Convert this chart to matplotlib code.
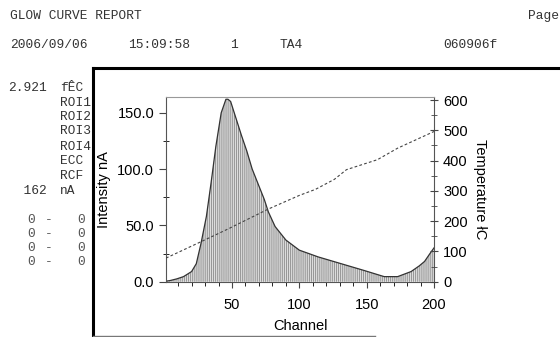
import matplotlib
matplotlib.use('Agg')
import matplotlib.pyplot as plt
from matplotlib.ticker import MultipleLocator

# glow curve (channel, intensity nA)
channel = [1, 4, 9, 14, 20, 23.5, 27, 31, 34.5, 38, 42, 45.5, 47, 49, 53, 57,
           61, 65, 70, 74, 77, 82, 90, 100, 114, 131, 148, 163, 173, 183,
           189, 193, 197, 200]
intensity = [0.5, 1, 2.5, 4.5, 9, 16, 34, 58, 88, 120, 150, 162, 162, 160,
             145, 130, 116, 100, 85, 73, 62, 49, 37, 28, 22, 16, 10, 4.5,
             4.5, 9, 14, 18, 25, 30]

# temperature ramp (right axis)
temp_channel = [1, 26, 47, 77, 100, 112, 126, 135, 158, 173, 200]
temperature = [78, 130, 174, 240, 285, 305, 338, 370, 403, 441, 496]

x_ticks = [50, 100, 150, 200]
y_ticks = [0, 50, 100, 150]
t_ticks = [0, 100, 200, 300, 400, 500, 600]

header = ['2006/09/06', '15:09:58', '1', 'TA4', '060906f']
header_x = [10, 128, 230, 280, 443]
side_values = ['2.921', '', '', '', '', '', '', '  162']
side_names = ['fÊC', 'ROI1', 'ROI2', 'ROI3', 'ROI4', 'ECC', 'RCF', 'nA']
side_y = [88, 102.5, 117, 131, 146.5, 161, 175.5, 190.5]
roi_y = [220, 234, 248, 262]

W, H = 560, 337
plt.rcParams['hatch.linewidth'] = 0.6
fig = plt.figure(figsize=(5.6, 3.37), dpi=100)
fig.patch.set_facecolor('white')

mono = 'Liberation Mono'
sans = 'Liberation Sans'
col = '#333333'

def fx(px):
    return px / W

def fy(py):
    return 1 - py / H

# page text
fig.text(fx(10), fy(16), 'GLOW CURVE REPORT', family=mono, fontsize=9.3, color=col, va='center')
fig.text(fx(528), fy(16), 'Page', family=mono, fontsize=9.3, color=col, va='center')
for s, px in zip(header, header_x):
    fig.text(fx(px), fy(45), s, family=mono, fontsize=9.3, color=col, va='center')
for v, n, py in zip(side_values, side_names, side_y):
    fig.text(fx(8), fy(py), v, family=mono, fontsize=9.3, color=col, va='center')
    fig.text(fx(60), fy(py), n, family=mono, fontsize=9.3, color=col, va='center')
for py in roi_y:
    fig.text(fx(27), fy(py), '0', family=mono, fontsize=9.3, color='#555555', va='center')
    fig.text(fx(45), fy(py), '-', family=mono, fontsize=9.3, color='#555555', va='center')
    fig.text(fx(77), fy(py), '0', family=mono, fontsize=9.3, color='#555555', va='center')

# black frame around the plot
fig.add_artist(plt.Line2D([fx(93), fx(560)], [fy(68), fy(68)], color='black', lw=2.2))
fig.add_artist(plt.Line2D([fx(93), fx(93)], [fy(68), fy(337)], color='black', lw=2.2))
fig.add_artist(plt.Line2D([fx(93), fx(375)], [fy(336), fy(336)], color='#777777', lw=1))

ax = fig.add_axes([fx(166), fy(281.7), fx(434 - 166), (281.7 - 97) / H])
ax.fill_between(channel, intensity, 0, facecolor='#dcdcdc', edgecolor='#8a8a8a',
                hatch='||||||||', linewidth=0)
ax.plot(channel, intensity, color='#333333', lw=0.9)
ax.set_xlim(1, 200)
ax.set_ylim(0, 164)
ax.set_xticks(x_ticks)
ax.xaxis.set_minor_locator(MultipleLocator(10))
ax.set_yticks(y_ticks)
ax.set_yticklabels(['%.1f' % v for v in y_ticks])
ax.yaxis.set_minor_locator(MultipleLocator(25))
ax.tick_params(axis='both', labelsize=10.5, color='#444444', width=0.8)
ax.tick_params(axis='y', which='major', direction='out', length=5)
ax.tick_params(axis='y', which='minor', direction='inout', length=4)
ax.tick_params(axis='x', which='major', direction='out', length=4, pad=8)
ax.tick_params(axis='x', which='minor', direction='out', length=3)
for lab in ax.get_xticklabels() + ax.get_yticklabels():
    lab.set_family(sans)
ax.spines['top'].set_color('#999999')
ax.spines['top'].set_linewidth(0.8)
for side in ['left', 'right', 'bottom']:
    ax.spines[side].set_color('#555555')
    ax.spines[side].set_linewidth(0.8)
ax.set_xlabel('Channel', family=sans, fontsize=10.5, labelpad=5)
ax.set_ylabel('Intensity nA', family=sans, fontsize=10.5)
ax.yaxis.set_label_coords(-0.205, 0.5)

ax2 = ax.twinx()
ax2.plot(temp_channel, temperature, color='#444444', lw=0.8, ls=(0, (2.5, 2)))
ax2.set_ylim(0, 610)
ax2.set_yticks(t_ticks)
ax2.yaxis.set_minor_locator(MultipleLocator(50))
ax2.tick_params(axis='y', which='major', direction='inout', length=6, labelsize=10.5, color='#444444')
ax2.tick_params(axis='y', which='minor', direction='inout', length=4, color='#444444')
for lab in ax2.get_yticklabels():
    lab.set_family(sans)
for side in ax2.spines:
    ax2.spines[side].set_visible(False)
ax2.set_ylabel('Temperature łC', family=sans, fontsize=10.5, rotation=-90, labelpad=14)

fig.savefig('out.png', dpi=100)
